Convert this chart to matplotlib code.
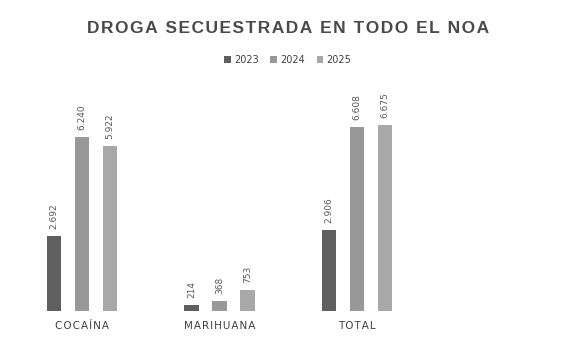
import matplotlib
matplotlib.use("Agg")
import matplotlib.pyplot as plt
import numpy as np

categories = ["COCAÍNA", "MARIHUANA", "TOTAL"]
years = ["2023", "2024", "2025"]
v2023 = [2692, 214, 2906]
v2024 = [6240, 368, 6608]
v2025 = [5922, 753, 6675]
colours = ["#5f5f5f", "#989898", "#a8a8a8"]

def fmt(v):
    return f"{v:,}".replace(",", ".")

def spaced(s, gap="\u200a"):
    # fake the letter spacing of the original
    return gap.join(s)

fig = plt.figure(figsize=(5.79, 3.45), dpi=100)
ax = fig.add_axes([13 / 579, 34 / 345, 413 / 579, 195 / 345])

x = np.arange(len(categories))
width = 0.105
step = 0.203
for i, (vals, col, yr) in enumerate(zip([v2023, v2024, v2025], colours, years)):
    pos = x + (i - 1) * step
    bars = ax.bar(pos, vals, width, color=col, label=yr)
    for b, v in zip(bars, vals):
        ax.annotate(fmt(v), (b.get_x() + b.get_width() / 2, v),
                    xytext=(0, 5), textcoords="offset points",
                    rotation=90, ha="center", va="bottom",
                    fontsize=6.5, color="#595959")

ax.set_xlim(-0.5, 2.5)
ax.set_ylim(0, 7000)
ax.set_xticks(x)
ax.set_xticklabels([spaced(c) for c in categories], fontsize=7.5, color="#404040")
ax.tick_params(axis="x", length=0, pad=7)
ax.set_yticks([])
for s in ax.spines.values():
    s.set_visible(False)

fig.text(0.497, 0.916, spaced("DROGA SECUESTRADA EN TODO EL NOA"),
         ha="center", va="center", fontsize=12.5, fontweight="bold",
         color="#4a4a4a", family=["Liberation Sans", "DejaVu Sans"])
fig.legend(loc="center", bbox_to_anchor=(0.497, 0.826), ncol=3, frameon=False,
           fontsize=7, handlelength=0.7, handleheight=0.7, columnspacing=1.2,
           handletextpad=0.3, labelcolor="#404040")

fig.savefig("out.png", dpi=100, facecolor="white")
